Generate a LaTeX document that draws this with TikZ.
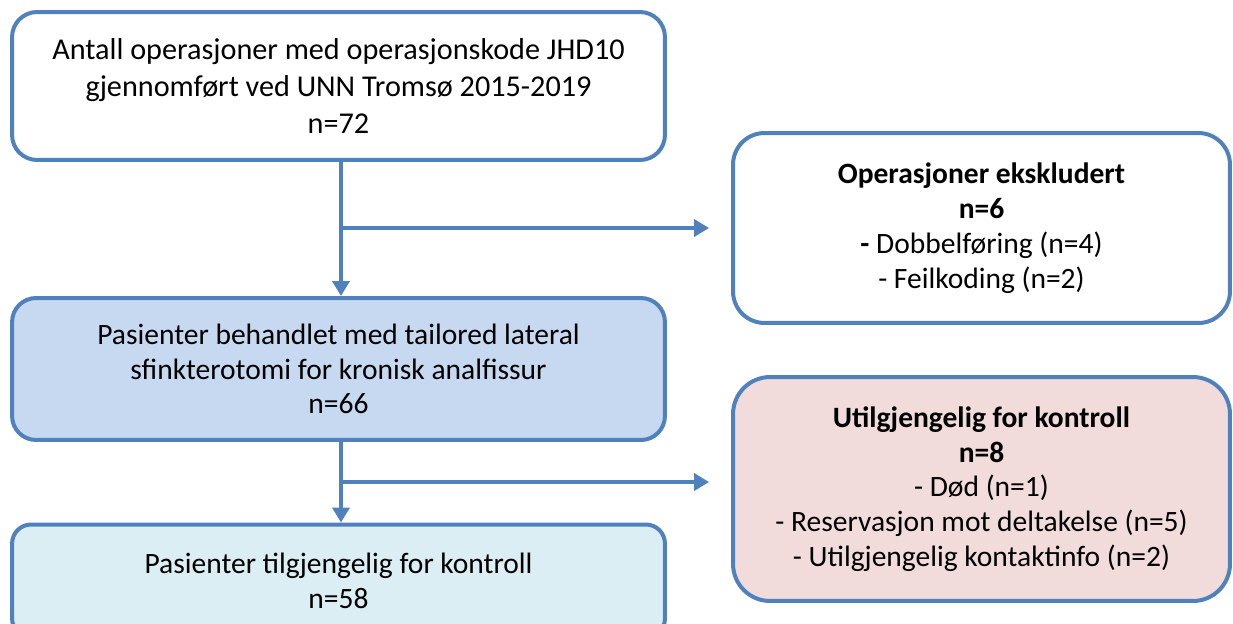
\documentclass[tikz,border=0pt]{standalone}
\usepackage{fontspec}
\setmainfont{Carlito}
\usetikzlibrary{arrows.meta}

\definecolor{rand}{HTML}{4F81BD}
\definecolor{blaa}{HTML}{C6D9F1}
\definecolor{lyseblaa}{HTML}{DBEEF4}
\definecolor{rosa}{HTML}{F2DCDB}

\begin{document}
\begin{tikzpicture}[x=0.02cm, y=-0.02cm, font=\fontsize{16.8}{19.8}\selectfont,
		boks/.style={draw=rand, line width=0.08cm, fill=white, align=center, inner sep=0pt},
		pil/.style={draw=rand, line width=0.09cm, -{Triangle[length=0.3cm, width=0.34cm]}}]
		\useasboundingbox (0,0) rectangle (1233,623);
		% venstre kolonne
		\node[boks, font=\fontsize{17.2}{21}\selectfont, rounded corners=0.5cm, minimum width=13.06cm, minimum height=2.96cm] (antall) at (338.5,86) {Antall operasjoner med operasjonskode JHD10\\gjennomført ved UNN Tromsø 2015-2019\\n=72};
		\node[boks, fill=blaa, rounded corners=0.48cm, minimum width=13.06cm, minimum height=2.84cm] (behandlet) at (338.5,369) {Pasienter behandlet med tailored lateral\\sfinkterotomi for kronisk analfissur\\n=66};
		\node[boks, fill=lyseblaa, rounded corners=0.38cm, minimum width=13.06cm, minimum height=2.26cm] (tilgj) at (338.5,581) {Pasienter tilgjengelig for kontroll\\n=58};
		% hoyre kolonne
		\node[boks, rounded corners=0.63cm, minimum width=9.94cm, minimum height=3.8cm] (ekskl) at (981.5,228) {\textbf{Operasjoner ekskludert}\\\textbf{n=6}\\\textbf{-} Dobbelføring (n=4)\\- Feilkoding (n=2)};
		\node[boks, fill=rosa, rounded corners=0.74cm, minimum width=9.94cm, minimum height=4.48cm] (utilg) at (981.5,489) {\textbf{Utilgjengelig for kontroll}\\\textbf{n=8}\\- Død (n=1)\\- Reservasjon mot deltakelse (n=5)\\- Utilgjengelig kontaktinfo (n=2)};
		% piler
		\draw[pil] ([xshift=0.05cm]antall.south) -- ([xshift=0.05cm]behandlet.north);
		\draw[pil] ([xshift=0.05cm]antall.south |- ekskl.west) -- ([xshift=-0.44cm]ekskl.west);
		\draw[pil] ([xshift=0.05cm]behandlet.south) -- ([xshift=0.05cm]tilgj.north);
		\draw[pil] ([xshift=0.05cm, yshift=0.14cm]behandlet.south |- utilg.west) -- ([xshift=-0.44cm, yshift=0.14cm]utilg.west);
\end{tikzpicture}
\end{document}
